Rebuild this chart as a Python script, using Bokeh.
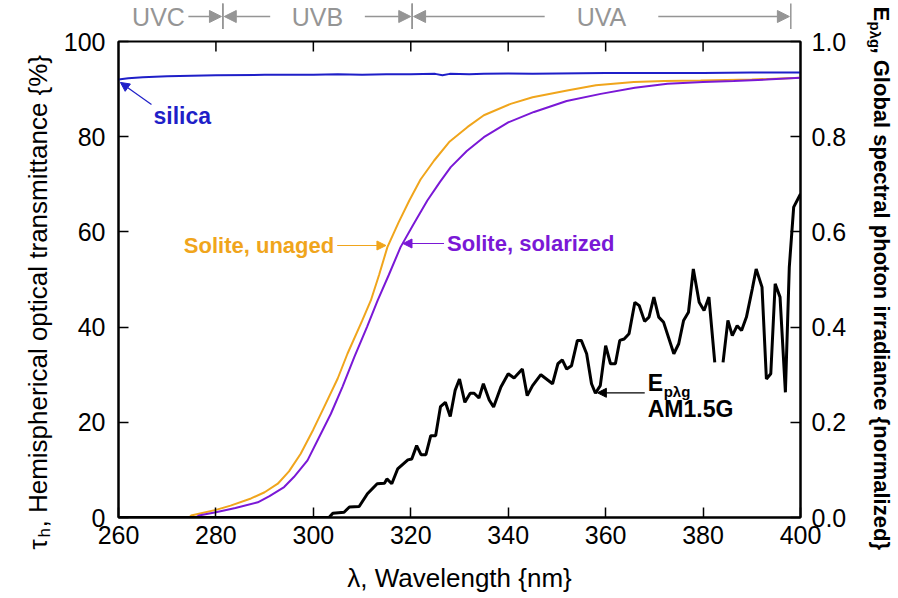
import math
from bokeh.plotting import figure
from bokeh.layouts import row, column
from bokeh.models import Range1d, LinearAxis, FixedTicker, Arrow, NormalHead
from bokeh.core.properties import value
from bokeh.embed import file_html
from bokeh.resources import INLINE

NaN = float("nan")

# ---------------- data ----------------
wl_silica = [260, 262, 265, 270, 275, 280, 290, 300, 305, 310, 315, 320, 325, 326.5, 328,
             332, 335, 340, 345, 350, 360, 370, 380, 390, 400]
t_silica = [92.0, 92.3, 92.5, 92.7, 92.8, 92.9, 93.0, 93.0, 93.1, 93.0, 93.1, 93.1, 93.2, 92.9, 93.2,
            93.1, 93.2, 93.3, 93.2, 93.3, 93.4, 93.4, 93.4, 93.5, 93.5]

wl_unaged = [260, 274.5, 274.9, 280.0, 283.0, 287.2, 290.0, 292.7, 295.0, 297.4, 300.0, 302.2,
             305.0, 307.0, 310.0, 311.8, 313.5, 315.2, 317.5, 319.7, 322.0, 324.8, 328.0,
             331.6, 335.0, 340.5, 345.0, 352.1, 358.0, 365.8, 372.0, 379.5, 390.0, 400]
t_unaged = [0, 0, 0.4, 1.6, 2.5, 4.0, 5.3, 7.1, 9.7, 13.4, 18.5, 23.2,
            29.2, 34.4, 41.3, 45.6, 51.0, 56.8, 62.0, 66.6, 71.0, 75.0, 79.0,
            82.0, 84.5, 86.9, 88.3, 89.7, 90.8, 91.5, 91.7, 91.8, 92.0, 92.4]

wl_solar = [260, 275.8, 276.5, 280.0, 284.0, 288.6, 291.0, 294.0, 296.0, 298.8, 301.0, 303.6,
            306.0, 308.4, 311.0, 313.2, 315.5, 317.9, 320.5, 323.4, 326.0, 328.2, 331.5,
            335.0, 340.0, 345.3, 352.0, 359.0, 366.0, 372.7, 380.0, 386.3, 393.0, 400]
t_solar = [0, 0, 0.4, 1.1, 2.0, 3.2, 4.5, 6.4, 8.5, 12.0, 16.5, 21.8,
           27.5, 33.7, 40.0, 45.6, 51.0, 56.8, 61.5, 66.6, 70.5, 73.6, 77.0,
           79.9, 83.0, 85.2, 87.5, 89.0, 90.3, 91.1, 91.5, 91.7, 92.0, 92.4]

wl_am15 = [260, 303.2, 304.0, 306.3, 307.4, 309.4, 311.1, 313.1, 314.6, 315.1, 316.1, 317.3,
           319.4, 320.2, 321.2, 322.1, 323.1, 324.1, 325.1, 326.1, 327.1, 328.1, 329.1,
           330.0, 331.1, 332.2, 333.0, 334.0, 334.9, 336.1, 337.0, 338.5, 340.0, 341.2,
           342.9, 343.9, 345.0, 346.7, 349.1, 350.2, 351.1, 352.0, 353.0, 354.2, 355.0,
           356.1, 357.1, 357.9, 358.9, 360.0, 361.0, 362.0, 362.9, 363.8, 364.8, 366.0,
           366.9, 368.0, 368.9, 369.9, 370.9, 371.9, 374.0, 375.0, 376.0, 377.0, 378.0,
           379.2, 380.2, 381.2, 382.4, 383.2, 384.1, 385.1, 386.0, 387.0, 387.9, 388.9,
           390.1, 390.9, 392.1, 393.0, 393.9, 394.8, 395.8, 396.9, 397.7, 398.6, 400.0]
e_am15 = [0, 0, 0.009, 0.011, 0.022, 0.023, 0.050, 0.071, 0.072, 0.081, 0.071, 0.102,
          0.121, 0.123, 0.151, 0.132, 0.132, 0.172, 0.172, 0.233, 0.242, 0.212, 0.267,
          0.291, 0.242, 0.261, 0.261, 0.251, 0.281, 0.247, 0.232, 0.274, 0.302, 0.293,
          0.312, 0.256, 0.277, 0.300, 0.281, 0.323, 0.331, 0.312, 0.319, 0.372, 0.372,
          0.344, 0.281, 0.261, 0.277, 0.361, 0.323, 0.323, 0.372, 0.375, 0.386, 0.452,
          0.445, 0.412, 0.421, 0.463, 0.421, 0.410, 0.344, 0.365, 0.414, 0.431, 0.522,
          0.452, 0.435, 0.463, 0.326, NaN, 0.326, 0.414, 0.382, 0.403, 0.393, 0.421,
          0.480, 0.522, 0.484, 0.291, 0.302, 0.491, 0.463, 0.263, 0.526, 0.652, 0.680]

x_ticks = [260, 280, 300, 320, 340, 360, 380, 400]
y_ticks = [0, 20, 40, 60, 80, 100]
e_ticks = [0.0, 0.2, 0.4, 0.6, 0.8, 1.0]
e_tick_labels = ["0.0", "0.2", "0.4", "0.6", "0.8", "1.0"]

band_names = ["UVC", "UVB", "UVA"]
band_start = [260, 280, 320]
band_end = [280, 320, 400]

BLUE = "#1f1fc8"
ORANGE = "#f0a51c"
PURPLE = "#7a18d6"
GRAY = "#959595"
FONT = "Liberation Sans"

# ---------------- geometry (canvas px) ----------------
W, H = 898, 598
LEFT_W = 60            # left label panel
RIGHT_X = 860          # right label panel starts here
TOP_H = 29             # UV band panel height
FL, FR, FT, FB = 117, 800, 41, 517   # main frame edges
X0, X1 = 260, 400
Y0, Y1 = 0, 100
PX_PER_X = (FR - FL) / (X1 - X0)
PX_PER_Y = (FB - FT) / (Y1 - Y0)
TICK_PX = 10


def blank_fig(w, h, xr, yr, **kw):
    f = figure(width=w, height=h, output_backend="svg", toolbar_location=None,
               x_range=xr, y_range=yr, x_axis_type=None, y_axis_type=None,
               min_border=0, background_fill_color="white", border_fill_color="white", **kw)
    f.grid.visible = False
    f.outline_line_color = None
    return f


# ---------------- main figure ----------------
MAIN_W = RIGHT_X - LEFT_W
p = figure(width=MAIN_W, height=H - TOP_H, output_backend="svg", toolbar_location=None,
           x_range=Range1d(X0, X1), y_range=Range1d(Y0, Y1),
           min_border_left=FL - LEFT_W, min_border_right=RIGHT_X - FR,
           min_border_top=FT - TOP_H, min_border_bottom=H - FB,
           background_fill_color="white", border_fill_color="white")
p.grid.visible = False
p.outline_line_color = "black"
p.outline_line_width = 2
p.extra_y_ranges = {"E": Range1d(0, 1)}


def style_axis(ax, ticks, standoff):
    ax.ticker = FixedTicker(ticks=ticks)
    ax.minor_tick_line_color = None
    ax.major_tick_in = TICK_PX
    ax.major_tick_out = 0
    ax.major_tick_line_width = 1.5
    ax.major_tick_line_color = "black"
    ax.axis_line_width = 2
    ax.axis_line_color = "black"
    ax.major_label_text_font = FONT
    ax.major_label_text_font_size = "25px"
    ax.major_label_text_color = "black"
    ax.major_label_standoff = standoff


xa = p.xaxis[0]
style_axis(xa, x_ticks, 8)
xa.axis_label = "λ, Wavelength {nm}"
xa.axis_label_text_font = FONT
xa.axis_label_text_font_size = "26px"
xa.axis_label_text_font_style = "normal"
xa.axis_label_text_color = "black"
xa.axis_label_standoff = 16

ya = p.yaxis[0]
style_axis(ya, y_ticks, 13)

ra = LinearAxis(y_range_name="E")
style_axis(ra, e_ticks, 11)
ra.major_label_overrides = {t: s for t, s in zip(e_ticks, e_tick_labels)}
p.add_layout(ra, "right")

# inward tick marks along the top edge (no labelled axis there)
dy = TICK_PX / PX_PER_Y
inner_x = x_ticks[1:-1]
p.segment(x0=inner_x, y0=[Y1] * len(inner_x), x1=inner_x, y1=[Y1 - dy] * len(inner_x),
          line_color="black", line_width=1.5)

# curves
p.line(wl_silica, t_silica, color=BLUE, line_width=2)
p.line(wl_unaged, t_unaged, color=ORANGE, line_width=2)
p.line(wl_solar, t_solar, color=PURPLE, line_width=2)
p.line(wl_am15, e_am15, y_range_name="E", color="black", line_width=3)


def cx(px):  # canvas px -> main x data
    return X0 + (px - FL) / PX_PER_X


def cy(py):  # canvas px -> main y data
    return Y0 + (FB - py) / PX_PER_Y


def ptxt(f, xs, ys, s, size, color="black", bold=False, align="left", angle=0.0, **kw):
    f.text(x=[xs], y=[ys], text=[s], text_font=value(FONT), text_font_size=value(f"{size}px"),
           text_font_style="bold" if bold else "normal", text_color=color,
           text_align=align, text_baseline="middle", angle=angle, **kw)


def arrow(f, x0, y0, x1, y1, color, size=9, width=1.2, **kw):
    f.add_layout(Arrow(x_start=x0, y_start=y0, x_end=x1, y_end=y1,
                       line_color=color, line_width=width,
                       end=NormalHead(size=size, fill_color=color, line_color=color, line_width=1),
                       **kw))


# curve annotations
ptxt(p, cx(152), cy(115), "silica", 23, BLUE, bold=True)
arrow(p, cx(150), cy(104), wl_silica[0] + 0.4, t_silica[0] - 0.6, BLUE)

ptxt(p, cx(333), cy(245), "Solite, unaged", 22, ORANGE, bold=True, align="right")
arrow(p, cx(336), cy(245), 314.9, cy(245), ORANGE)

ptxt(p, cx(446), cy(243), "Solite, solarized", 22, PURPLE, bold=True)
arrow(p, cx(443), cy(243), 318.4, cy(243), PURPLE)

ptxt(p, cx(647), cy(382), "E", 23, bold=True)
ptxt(p, cx(663), cy(391), "pλg", 15, bold=True)
ptxt(p, cx(647), cy(408), "AM1.5G", 23, bold=True)
arrow(p, cx(644), 0.262, 358.3, 0.262, "black", y_range_name="E")

# ---------------- UV band panel (above) ----------------
PAD = 10
top = blank_fig(MAIN_W, TOP_H,
                Range1d(X0 - PAD / PX_PER_X, X1 + PAD / PX_PER_X), Range1d(0, TOP_H),
                min_border_left=FL - LEFT_W - PAD, min_border_right=RIGHT_X - FR - PAD)
top.min_border_top = 0
top.min_border_bottom = 0


def ty(py):
    return TOP_H - py


BAND_Y = ty(16)
for name, s, e in zip(band_names, band_start, band_end):
    for b in ([s, e] if s > X0 else [e]):
        top.add_layout(Arrow(x_start=b, y_start=ty(3), x_end=b, y_end=ty(TOP_H),
                             line_color=GRAY, line_width=1.5, end=None))
    if s == X0:
        ptxt(top, cx(121), BAND_Y, name, 25, GRAY)
        top.add_layout(Arrow(x_start=cx(179), y_start=BAND_Y, x_end=e - 0.3, y_end=BAND_Y,
                             line_color=GRAY, line_width=1.5,
                             end=NormalHead(size=12, fill_color=GRAY, line_color=GRAY)))
    else:
        mid = (s + e) / 2
        half = 10.0 if e - s < 50 else 12.0
        ptxt(top, mid, BAND_Y, name, 25, GRAY, align="center")
        top.add_layout(Arrow(x_start=mid - half, y_start=BAND_Y, x_end=s + 0.3, y_end=BAND_Y,
                             line_color=GRAY, line_width=1.5,
                             end=NormalHead(size=12, fill_color=GRAY, line_color=GRAY)))
        top.add_layout(Arrow(x_start=mid + half, y_start=BAND_Y, x_end=e - 0.3, y_end=BAND_Y,
                             line_color=GRAY, line_width=1.5,
                             end=NormalHead(size=12, fill_color=GRAY, line_color=GRAY)))

# ---------------- left label panel ----------------
left = blank_fig(LEFT_W, H, Range1d(0, LEFT_W), Range1d(0, H))
ptxt(left, 37, H - 549, "τ", 26, angle=math.pi / 2)
ptxt(left, 44, H - 537, "h", 17, angle=math.pi / 2)
ptxt(left, 37, H - 527, ", Hemispherical optical transmittance {%}", 26, angle=math.pi / 2)

# ---------------- right label panel ----------------
RIGHT_W = W - RIGHT_X
right = blank_fig(RIGHT_W, H, Range1d(RIGHT_X, W), Range1d(0, H))
ptxt(right, 881, H - 6, "E", 22, bold=True, angle=-math.pi / 2)
ptxt(right, 875, H - 21, "pλg", 15, bold=True, angle=-math.pi / 2)
ptxt(right, 881, H - 47, ", Global spectral photon irradiance {normalized}", 22, bold=True,
     angle=-math.pi / 2)

layout = row(left, column(top, p), right)
open("out.html", "w").write(file_html(layout, INLINE))
